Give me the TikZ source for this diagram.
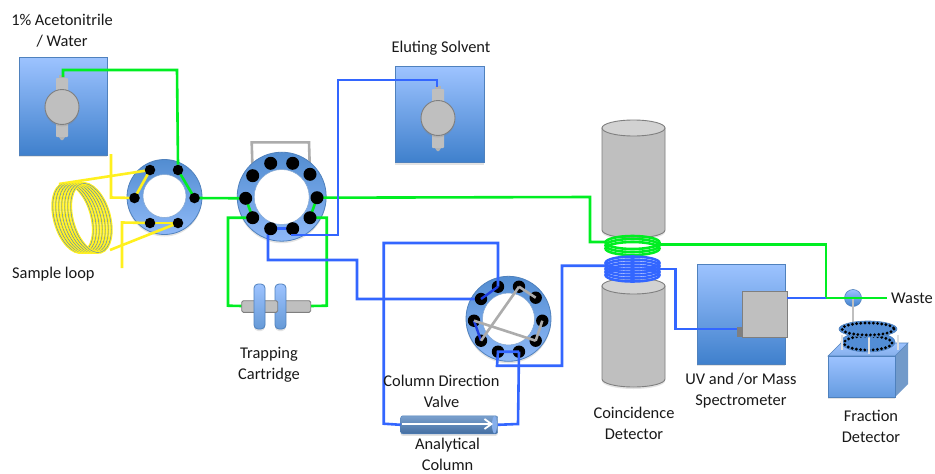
\documentclass[tikz,border=0pt]{standalone}
\usepackage{fontspec}
\setmainfont{Carlito}
\usetikzlibrary{shadows,arrows.meta,calc}
\pgfdeclarelayer{back}\pgfdeclarelayer{disc}\pgfdeclarelayer{wire}\pgfdeclarelayer{top}
\pgfsetlayers{back,disc,wire,main,top}
\definecolor{lineblue}{HTML}{3366FF}
\definecolor{linegreen}{HTML}{00EE22}
\definecolor{lineyellow}{HTML}{FFF01E}
\definecolor{darkblue}{HTML}{1F3FE0}
\definecolor{edgeblue}{HTML}{4F81BD}
\definecolor{boxtop}{HTML}{9DC3FF}
\definecolor{boxbot}{HTML}{3F80CC}
\definecolor{partgray}{HTML}{BFBFBF}
\definecolor{partedge}{HTML}{7F7F7F}
\tikzset{
  softshadow/.style={drop shadow={opacity=.22,shadow xshift=0pt,shadow yshift=-2pt}},
  label/.style={font=\fontsize{16.4}{21}\selectfont,text=black!90,align=center,inner sep=0pt},
  bluebox/.style={draw=edgeblue,line width=.8pt,top color=boxtop,bottom color=boxbot,inner sep=0pt,softshadow},
  disc/.style={circle,draw=edgeblue,line width=.8pt,inner sep=0pt,top color=boxbot!90!white,bottom color=boxtop!85!boxbot},
  hole/.style={circle,fill=white,draw=edgeblue!70,line width=.5pt,inner sep=0pt},
  port/.style={circle,fill=black,inner sep=0pt,minimum size=#1},
  grayp/.style={fill=partgray,draw=partedge,line width=.9pt},
  gwire/.style={linegreen,line width=2.6pt,line join=miter},
  bwire/.style={lineblue,line width=2.6pt,line join=miter},
  ywire/.style={lineyellow,line width=2.6pt,line join=miter},
  dwire/.style={darkblue,line width=2.4pt},
  glink/.style={partgray!90!black,line width=2.6pt},
  every picture/.append style={x=1pt,y=-1pt},
}
\newcommand{\pumpshape}[2]{%
  \fill[partedge!60] (#1-3,#2+30) -- (#1+3,#2+30) -- (#1+1,#2+33) -- (#1-1,#2+33) -- cycle;
  \fill[partgray,rounded corners=.8pt] (#1-6,#2-29) rectangle (#1+6,#2+30);
  \fill[partgray!80!partedge] (#1-3,#2-32) rectangle (#1+3,#2-29);
  \draw[grayp,softshadow] (#1,#2) circle[x radius=17,y radius=17.5];
}
\begin{document}
\begin{tikzpicture}
\useasboundingbox (0,0) rectangle (935,474);
\begin{pgfonlayer}{back}
\fill[white] (0,0) rectangle (935,474);
\end{pgfonlayer}

% --- boxes
\node[bluebox,minimum width=88pt,minimum height=98pt] (pumpA) at (63,106) {};
\node[bluebox,minimum width=89pt,minimum height=96pt] (pumpB) at (439.5,114.5) {};
\node[bluebox,minimum width=88pt,minimum height=100pt] (msbox) at (741,314) {};
\pumpshape{62}{107}
\pumpshape{438}{118}
\coordinate (pumpAout) at (63,77);
\coordinate (pumpBout) at (437,87);

% --- valves: discs on their layer
\begin{pgfonlayer}{disc}
\node[disc,minimum size=75pt,softshadow] (v1) at (164.5,197) {};
\node[hole,minimum size=43pt] (v1h) at (164.5,196) {};
\node[disc,minimum size=89pt,softshadow] (v2) at (281.7,196.7) {};
\node[hole,minimum size=55pt] (v2h) at (281.7,197) {};
\node[disc,minimum size=85pt,softshadow] (v3) at (508.5,318.8) {};
\node[hole,minimum size=52pt] (v3h) at (508.5,319) {};
\end{pgfonlayer}

% --- ports
\foreach \n/\x/\y in {a/150/170,b/178/170,c/134.5/198,d/194.5/198,e/150/223,f/178/223}
  \node[port=10.5pt] (v1\n) at (\x,\y) {};
\foreach \n/\x/\y in {a/270.7/163.3,b/292.7/163.3,c/252.7/175.7,d/310/174.3,e/245.7/198.3,f/317/197.7,g/252.7/217.7,h/310/217.7,i/270.7/228.7,j/292.7/228.7}
  \node[port=13pt] (v2\n) at (\x,\y) {};
\foreach \n/\x/\y in {a/498/286.7,b/519/286.7,c/481/299,d/535.7/297.7,e/474/320.7,f/542.3/320.7,g/481/340.7,h/535.7/340.7,i/498/351.7,j/519/351.7}
  \node[port=12.4pt] (v3\n) at (\x,\y) {};

% --- sample loop coil
\coordinate (coilT) at (59,184);
\coordinate (coilB) at (110,250);
\foreach \cx in {73,76,79,82,85,88,91}{
  \draw[lineyellow,line width=2.8pt,rotate around={16:(\cx,218)}] (\cx,218) circle[x radius=18.5,y radius=35.5];
  \draw[edgeblue!70!lineblue,line width=.4pt,rotate around={16:(\cx,218)}] (\cx,218) circle[x radius=18.5,y radius=35.5];
}

% --- cartridge
\draw[grayp,rounded corners=1.5pt] (276,300.7) rectangle (310.7,312.3);
\node[disc,draw=edgeblue,rectangle,rounded corners=4pt,minimum width=11pt,minimum height=45pt,top color=boxtop,bottom color=boxbot!80,softshadow] (diskR) at (280.5,306.5) {};
\draw[grayp,rounded corners=1.5pt] (241.7,300.7) rectangle (277.7,312.3);
\node[disc,draw=edgeblue,rectangle,rounded corners=4pt,minimum width=11pt,minimum height=45pt,top color=boxtop,bottom color=boxbot!80,softshadow] (diskL) at (259.5,306.5) {};
\coordinate (cartL) at (242,306);
\coordinate (cartR) at (311,306);

% --- analytical column
\node[rectangle,rounded corners=2pt,draw=edgeblue,minimum width=97pt,minimum height=18pt,inner sep=0pt,top color=edgeblue!75!white,bottom color=edgeblue!85!black,softshadow] (col) at (449.2,424.8) {};
\fill[boxtop!70!edgeblue] (494.5,424.8) circle[x radius=2.5,y radius=8.6];
\draw[white,line width=1.8pt,-{Straight Barb[length=7pt,width=10pt,line width=1.8pt]}] (402,424) -- (493,424);

% --- detectors
\path[grayp,softshadow] (602,128) -- (602,230) arc[start angle=180,end angle=360,x radius=31.5,y radius=-8] -- (665,128) -- cycle;
\draw[partedge,line width=.9pt,fill=partgray!70!white] (633.5,128) circle[x radius=31.5,y radius=8];
\path[grayp,softshadow] (602,286) -- (602,379) arc[start angle=180,end angle=360,x radius=31.5,y radius=-8] -- (665,286) -- cycle;
\draw[partedge,line width=.9pt,fill=partgray!70!white] (633.5,286) circle[x radius=31.5,y radius=8];
\foreach \y in {242.5,245.5,248.5}
  \draw[linegreen,line width=2.6pt] (632.5,\y) circle[x radius=27,y radius=6.5];
\foreach \y in {263,266,269,272,275}
  \draw[lineblue,line width=2.6pt] (632.5,\y) circle[x radius=27,y radius=6.5];
\coordinate (gcoilL) at (605,242);
\coordinate (gcoilR) at (660,244.7);
\coordinate (bcoilL) at (605,265.7);
\coordinate (bcoilR) at (660,269);

% --- detector box
\node[grayp,rectangle,minimum width=45pt,minimum height=46pt,inner sep=0pt] (ms) at (764.5,314) {};
\fill[partedge] (737,327) rectangle (742,336.5);
\coordinate (msin) at (737,329);
\node[inner sep=0pt,minimum size=0pt] (msout) at (787,298) {};

% --- fraction collector
\coordinate (wast) at (887,298);
\node[circle,draw=edgeblue,line width=.6pt,top color=boxtop,bottom color=boxbot,minimum size=17pt,inner sep=0pt] (split) at (853,298) {};
\draw[partgray,line width=1.6pt] (split.center) -- (853,324);
\fill[edgeblue!80!white] (895,356) -- (908,343) -- (908,384) -- (895,397) -- cycle;
\path[draw=edgeblue,line width=.6pt,top color=boxtop,bottom color=boxtop!70!edgeblue] (828,356) -- (841,343) -- (908,343) -- (895,356) -- cycle;
\node[bluebox,rectangle,minimum width=67pt,minimum height=41pt,top color=boxtop,bottom color=boxtop!40!boxbot] (frac) at (861.5,376.5) {};
\draw[edgeblue,line width=.6pt,fill=boxbot!80!boxtop] (868,342) circle[x radius=27,y radius=10];
\draw[black,line width=3.2pt,line cap=round,dash pattern=on 0pt off 4.2pt] (868,343) circle[x radius=24,y radius=7];
\draw[white!88!black,line width=1.7pt] (842,335) -- (842,350);
\draw[white!88!black,line width=1.7pt] (869,335) -- (869,354);
\draw[white!88!black,line width=1.7pt] (898,335) -- (898,350);
\draw[edgeblue,line width=.6pt,fill=boxbot!80!boxtop] (868,329) circle[x radius=29,y radius=8];
\draw[black,line width=3.2pt,line cap=round,dash pattern=on 0pt off 4.2pt] (868,329) circle[x radius=26,y radius=6];

% --- gray loop of valve 2, behind it
\begin{pgfonlayer}{back}
\draw[glink] (v2c.center) -- (251.7,142.3) -- (309,142.3) -- (v2d.center);
\end{pgfonlayer}

% --- connectors
\begin{pgfonlayer}{wire}
\draw[gwire] (v1b.center) -- (v1d.center);
\draw[gwire] (v1d.center) -- (v2e.center);
\draw[gwire] (v2e.center) -- (v2g.center);
\draw[gwire] (v2f.center) -- (v2h.center);
\draw[gwire] (v2f.center) -- (590,197) -- (590,242) -- (gcoilL);
\draw[gwire] (v2g.center) -- (228,217.7) -- (228,305.7) -- (cartL);
\draw[gwire] (v2h.center) -- (326.7,217.7) -- (326.7,305.7) -- (cartR);
\draw[ywire] (v1a.center) -- (v1c.center);
\draw[ywire] (v1e.center) -- (v1f.center);
\draw[ywire] (coilT) -- (v1a.center);
\draw[ywire] (coilB) -- (v1f.center);
\coordinate (yinA) at (111,154);
\coordinate (yinB) at (122,268);
\draw[ywire] (yinA) -- (111,197.5) -- (v1c.center);
\draw[ywire] (yinB) -- (122,222.5) -- (v1e.center);
\draw[bwire] (v2i.center) -- (v2j.center);
\draw[bwire] (v2i.center) -- (268,235) -- (268,260) -- (357,260) -- (357,299) -- (v3c.center);
\end{pgfonlayer}

\begin{pgfonlayer}{top}
\draw[gwire] (pumpAout) -- (63,70) -- (177,70) -- (v1b.north);
\draw[bwire] (pumpBout) -- (437,80) -- (338,80) -- (338,235) -- (v2j.south |- 0,235) -- (v2j.south);
\draw[gwire] (gcoilR) -- (826,244.7) -- (826,298) -- (wast);
\draw[bwire] (msout.center) -- (826,298);
\draw[bwire] (v3a.center) -- (498,243) -- (383.7,243) -- (383.7,423.7) -- (col.west);
\draw[bwire] (v3j.center) -- (518,424) -- (col.east);
\draw[bwire] (v3j.center) -- (v3i.center) -- (497,365.7) -- (562,365.7) -- (562,265.7) -- (bcoilL);
\draw[bwire] (bcoilR) -- (675.7,269) -- (675.7,329) -- (msin);
\draw[dwire] (v3a.center) -- (v3c.center);
\draw[dwire] (v3e.center) -- (v3g.center);
\draw[glink] (v3b.center) -- (v3d.center);
\draw[glink] (v3b.center) -- (v3g.center);
\draw[glink] (v3e.center) -- (v3h.center);
\draw[glink] (v3f.center) -- (v3h.center);
\end{pgfonlayer}

% --- labels
\begin{pgfonlayer}{top}
\node[label] (t1) at (62,30.8) {1\% Acetonitrile\\/ Water};
\node[label,anchor=west] (t2) at (12,274) {Sample loop};
\node[label] (t3) at (441,48.5) {Eluting Solvent};
\node[label] (t4) at (269,365.2) {Trapping\\Cartridge};
\node[label] (t5) at (441.5,391) {Column Direction\\Valve};
\node[label] (t6) at (447.5,454.5) {Analytical\\Column};
\node[label] (t7) at (634,423) {Coincidence\\Detector};
\node[label] (t8) at (741,391) {UV and /or Mass\\Spectrometer};
\node[label] (t9) at (871,426) {Fraction\\Detector};
\node[label,anchor=west] (t10) at (891,298) {Waste};
\end{pgfonlayer}
\end{tikzpicture}
\end{document}
